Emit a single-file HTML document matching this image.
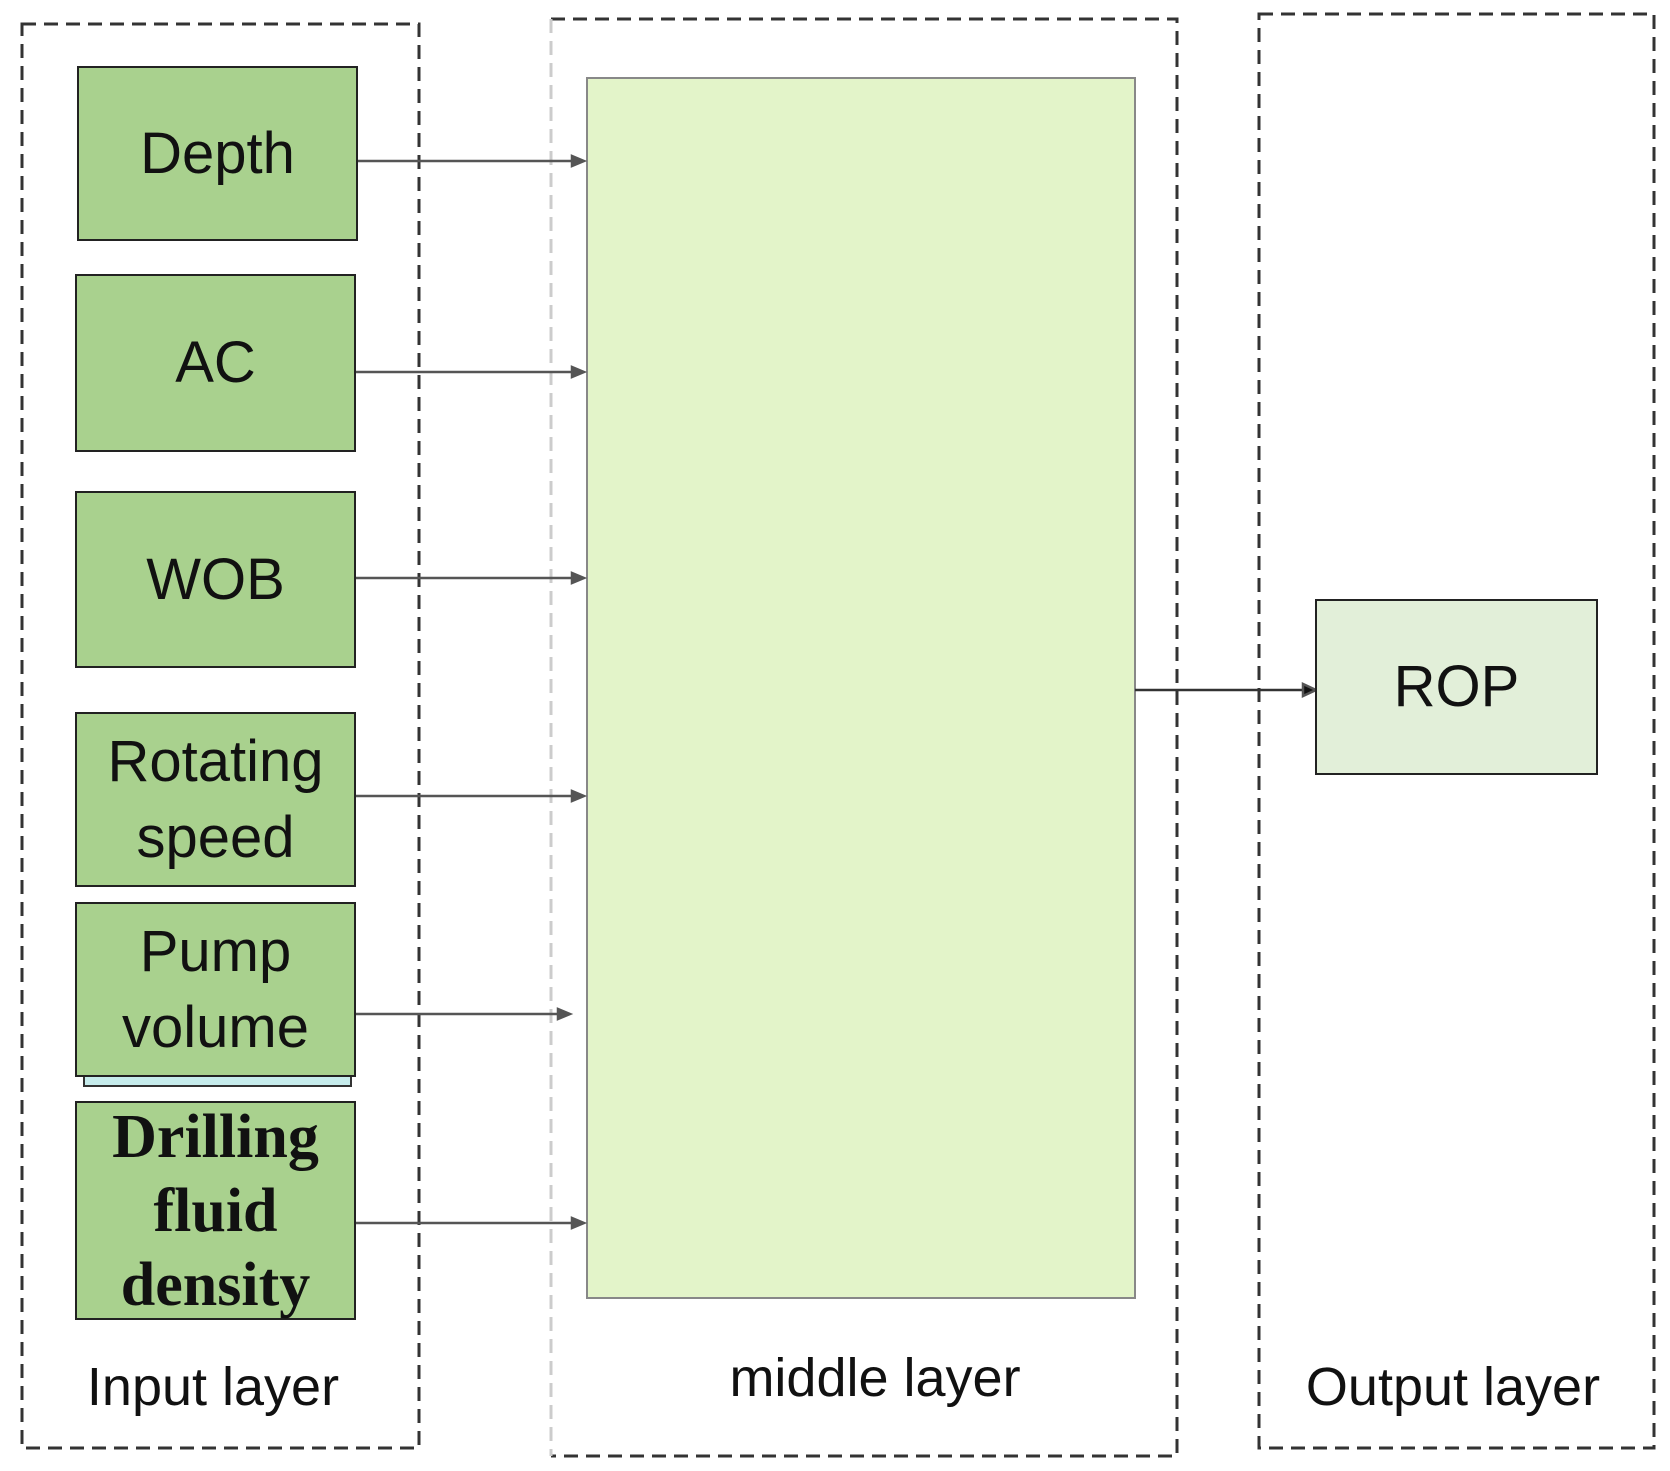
<!DOCTYPE html>
<html><head><style>
body{margin:0;width:1670px;height:1471px;background:#fff;position:relative;overflow:hidden;font-family:"Liberation Sans",sans-serif;}
.a{position:absolute;box-sizing:border-box}
.g{background:#a9d18e;border:2px solid #222;display:flex;align-items:center;justify-content:center;text-align:center;font-size:58px;color:#111;line-height:76px}
.lab{position:absolute;font-size:54px;color:#111;white-space:nowrap;transform:translateX(-50%)}
</style></head><body>
<svg class="a" style="left:0;top:0" width="1670" height="1471">
<rect x="22" y="24" width="397" height="1424" fill="none" stroke="#333" stroke-width="3" stroke-dasharray="14,8"/>
<path d="M551 19H1177V1456H551" fill="none" stroke="#333" stroke-width="3" stroke-dasharray="14,8"/>
<line x1="551" y1="19" x2="551" y2="1456" stroke="#ccc" stroke-width="3" stroke-dasharray="14,8"/>
<rect x="1259" y="14" width="395" height="1434" fill="none" stroke="#333" stroke-width="3" stroke-dasharray="14,8"/>
<rect x="587" y="78" width="548" height="1220" fill="#e3f4c9" stroke="#888" stroke-width="2"/>
<g stroke="#555" stroke-width="2.5" fill="#555">
<line x1="358" y1="161" x2="580" y2="161"/><path d="M584 161l-12-5v10z"/>
<line x1="356" y1="372" x2="580" y2="372"/><path d="M584 372l-12-5v10z"/>
<line x1="356" y1="578" x2="580" y2="578"/><path d="M584 578l-12-5v10z"/>
<line x1="356" y1="796" x2="580" y2="796"/><path d="M584 796l-12-5v10z"/>
<line x1="356" y1="1014" x2="566" y2="1014"/><path d="M570 1014l-12-5v10z"/>
<line x1="356" y1="1223" x2="580" y2="1223"/><path d="M584 1223l-12-5v10z"/>
<line x1="1135" y1="690" x2="1310" y2="690" stroke="#333"/><path d="M1316 690l-13-6v12z" fill="#111"/>
</g>
</svg>
<div class="a g" style="left:77px;top:66px;width:281px;height:175px">Depth</div>
<div class="a g" style="left:75px;top:274px;width:281px;height:178px">AC</div>
<div class="a g" style="left:75px;top:491px;width:281px;height:177px">WOB</div>
<div class="a g" style="left:75px;top:712px;width:281px;height:175px">Rotating<br>speed</div>
<div class="a" style="left:83px;top:1075px;width:269px;height:12px;background:#c6ecec;border:2px solid #333"></div>
<div class="a g" style="left:75px;top:902px;width:281px;height:175px">Pump<br>volume</div>
<div class="a g" style="left:75px;top:1101px;width:281px;height:219px;font-family:'Liberation Serif',serif;font-weight:bold;font-size:62px;line-height:74px">Drilling<br>fluid<br>density</div>
<div class="a g" style="left:1315px;top:599px;width:283px;height:176px;background:#e2efd9">ROP</div>
<div class="lab" style="left:213px;top:1356px">Input layer</div>
<div class="lab" style="left:875px;top:1347px">middle layer</div>
<div class="lab" style="left:1453px;top:1356px">Output layer</div>
</body></html>
